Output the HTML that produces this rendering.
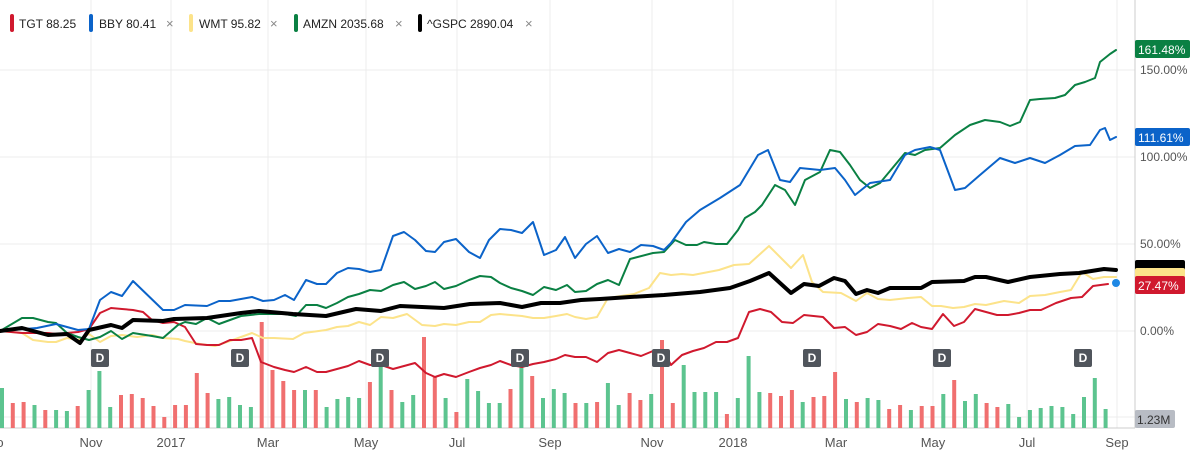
<!DOCTYPE html>
<html><head><meta charset="utf-8"><style>
body{margin:0;width:1190px;height:458px;background:#fff;overflow:hidden;font-family:"Liberation Sans",sans-serif}
svg{position:absolute;left:0;top:0}
</style></head><body>
<svg width="1190" height="458" xmlns="http://www.w3.org/2000/svg" font-family="Liberation Sans, sans-serif">
<g stroke="#ececec" stroke-width="1">
<line x1="0" y1="70" x2="1135" y2="70"/><line x1="0" y1="157" x2="1135" y2="157"/><line x1="0" y1="244" x2="1135" y2="244"/><line x1="0" y1="331" x2="1135" y2="331"/><line x1="0" y1="417" x2="1135" y2="417"/>
<line x1="91" y1="0" x2="91" y2="428"/><line x1="171" y1="0" x2="171" y2="428"/><line x1="268" y1="0" x2="268" y2="428"/><line x1="366" y1="0" x2="366" y2="428"/><line x1="457" y1="0" x2="457" y2="428"/><line x1="550" y1="0" x2="550" y2="428"/><line x1="652" y1="0" x2="652" y2="428"/><line x1="733" y1="0" x2="733" y2="428"/><line x1="836" y1="0" x2="836" y2="428"/><line x1="933" y1="0" x2="933" y2="428"/><line x1="1027" y1="0" x2="1027" y2="428"/><line x1="1117" y1="0" x2="1117" y2="428"/>
</g>
<line x1="1135" y1="0" x2="1135" y2="428" stroke="#ccc"/>
<line x1="0" y1="428" x2="1135" y2="428" stroke="#ccc"/>
<g fill="#ffffff"><rect x="0" y="0" width="1135" height="0"/></g>
<g id="bars">
<rect x="0" y="388" width="4" height="40" fill="#5cc48f"/><rect x="10.8" y="403" width="4" height="25" fill="#f06f6f"/><rect x="21.6" y="402" width="4" height="26" fill="#f06f6f"/><rect x="32.5" y="405" width="4" height="23" fill="#5cc48f"/><rect x="43.3" y="410" width="4" height="18" fill="#f06f6f"/><rect x="54.1" y="410" width="4" height="18" fill="#5cc48f"/><rect x="64.9" y="411" width="4" height="17" fill="#5cc48f"/><rect x="75.7" y="406" width="4" height="22" fill="#f06f6f"/><rect x="86.6" y="390" width="4" height="38" fill="#5cc48f"/><rect x="97.4" y="371" width="4" height="57" fill="#5cc48f"/><rect x="108.2" y="407" width="4" height="21" fill="#5cc48f"/><rect x="119" y="395" width="4" height="33" fill="#f06f6f"/><rect x="129.8" y="394" width="4" height="34" fill="#f06f6f"/><rect x="140.7" y="398" width="4" height="30" fill="#f06f6f"/><rect x="151.5" y="406" width="4" height="22" fill="#f06f6f"/><rect x="162.3" y="417" width="4" height="11" fill="#f06f6f"/><rect x="173.1" y="405" width="4" height="23" fill="#f06f6f"/><rect x="183.9" y="405" width="4" height="23" fill="#f06f6f"/><rect x="194.8" y="373" width="4" height="55" fill="#f06f6f"/><rect x="205.6" y="393" width="4" height="35" fill="#f06f6f"/><rect x="216.4" y="399" width="4" height="29" fill="#5cc48f"/><rect x="227.2" y="397" width="4" height="31" fill="#5cc48f"/><rect x="238" y="405" width="4" height="23" fill="#5cc48f"/><rect x="248.9" y="407" width="4" height="21" fill="#5cc48f"/><rect x="259.7" y="322" width="4" height="106" fill="#f06f6f"/><rect x="270.5" y="370" width="4" height="58" fill="#f06f6f"/><rect x="281.3" y="381" width="4" height="47" fill="#f06f6f"/><rect x="292.1" y="390" width="4" height="38" fill="#f06f6f"/><rect x="303" y="390" width="4" height="38" fill="#5cc48f"/><rect x="313.8" y="390" width="4" height="38" fill="#f06f6f"/><rect x="324.6" y="407" width="4" height="21" fill="#5cc48f"/><rect x="335.4" y="399" width="4" height="29" fill="#5cc48f"/><rect x="346.2" y="397" width="4" height="31" fill="#5cc48f"/><rect x="357.1" y="398" width="4" height="30" fill="#5cc48f"/><rect x="367.9" y="382" width="4" height="46" fill="#f06f6f"/><rect x="378.7" y="367" width="4" height="61" fill="#5cc48f"/><rect x="389.5" y="390" width="4" height="38" fill="#f06f6f"/><rect x="400.3" y="402" width="4" height="26" fill="#5cc48f"/><rect x="411.2" y="395" width="4" height="33" fill="#5cc48f"/><rect x="422" y="337" width="4" height="91" fill="#f06f6f"/><rect x="432.8" y="377" width="4" height="51" fill="#f06f6f"/><rect x="443.6" y="398" width="4" height="30" fill="#5cc48f"/><rect x="454.4" y="412" width="4" height="16" fill="#f06f6f"/><rect x="465.3" y="379" width="4" height="49" fill="#5cc48f"/><rect x="476.1" y="391" width="4" height="37" fill="#5cc48f"/><rect x="486.9" y="403" width="4" height="25" fill="#5cc48f"/><rect x="497.7" y="403" width="4" height="25" fill="#5cc48f"/><rect x="508.5" y="389" width="4" height="39" fill="#f06f6f"/><rect x="519.4" y="367" width="4" height="61" fill="#5cc48f"/><rect x="530.2" y="376" width="4" height="52" fill="#f06f6f"/><rect x="541" y="398" width="4" height="30" fill="#5cc48f"/><rect x="551.8" y="389" width="4" height="39" fill="#5cc48f"/><rect x="562.6" y="393" width="4" height="35" fill="#5cc48f"/><rect x="573.5" y="403" width="4" height="25" fill="#f06f6f"/>
<rect x="584.3" y="403" width="4" height="25" fill="#5cc48f"/><rect x="595.1" y="402" width="4" height="26" fill="#f06f6f"/><rect x="605.9" y="383" width="4" height="45" fill="#5cc48f"/><rect x="616.7" y="405" width="4" height="23" fill="#5cc48f"/><rect x="627.6" y="393" width="4" height="35" fill="#f06f6f"/><rect x="638.4" y="400" width="4" height="28" fill="#f06f6f"/><rect x="649.2" y="394" width="4" height="34" fill="#5cc48f"/><rect x="660" y="340" width="4" height="88" fill="#f06f6f"/><rect x="670.8" y="403" width="4" height="25" fill="#f06f6f"/><rect x="681.7" y="365" width="4" height="63" fill="#5cc48f"/><rect x="692.5" y="392" width="4" height="36" fill="#5cc48f"/><rect x="703.3" y="392" width="4" height="36" fill="#5cc48f"/><rect x="714.1" y="392" width="4" height="36" fill="#5cc48f"/><rect x="724.9" y="414" width="4" height="14" fill="#f06f6f"/><rect x="735.8" y="398" width="4" height="30" fill="#5cc48f"/><rect x="746.6" y="356" width="4" height="72" fill="#5cc48f"/><rect x="757.4" y="392" width="4" height="36" fill="#5cc48f"/><rect x="768.2" y="393" width="4" height="35" fill="#f06f6f"/><rect x="779" y="396" width="4" height="32" fill="#f06f6f"/><rect x="789.9" y="390" width="4" height="38" fill="#f06f6f"/><rect x="800.7" y="402" width="4" height="26" fill="#5cc48f"/><rect x="811.5" y="397" width="4" height="31" fill="#f06f6f"/><rect x="822.3" y="396" width="4" height="32" fill="#f06f6f"/><rect x="833.1" y="372" width="4" height="56" fill="#f06f6f"/><rect x="844" y="399" width="4" height="29" fill="#5cc48f"/><rect x="854.8" y="402" width="4" height="26" fill="#f06f6f"/><rect x="865.6" y="398" width="4" height="30" fill="#5cc48f"/><rect x="876.4" y="400" width="4" height="28" fill="#5cc48f"/><rect x="887.2" y="409" width="4" height="19" fill="#f06f6f"/><rect x="898.1" y="405" width="4" height="23" fill="#f06f6f"/><rect x="908.9" y="410" width="4" height="18" fill="#5cc48f"/><rect x="919.7" y="406" width="4" height="22" fill="#f06f6f"/><rect x="930.5" y="406" width="4" height="22" fill="#f06f6f"/><rect x="941.3" y="394" width="4" height="34" fill="#5cc48f"/><rect x="952.2" y="380" width="4" height="48" fill="#f06f6f"/><rect x="963" y="401" width="4" height="27" fill="#5cc48f"/><rect x="973.8" y="394" width="4" height="34" fill="#5cc48f"/><rect x="984.6" y="403" width="4" height="25" fill="#f06f6f"/><rect x="995.4" y="407" width="4" height="21" fill="#f06f6f"/><rect x="1006.3" y="404" width="4" height="24" fill="#5cc48f"/><rect x="1017.1" y="417" width="4" height="11" fill="#5cc48f"/><rect x="1027.9" y="410" width="4" height="18" fill="#5cc48f"/><rect x="1038.7" y="408" width="4" height="20" fill="#5cc48f"/><rect x="1049.5" y="406" width="4" height="22" fill="#5cc48f"/><rect x="1060.4" y="407" width="4" height="21" fill="#5cc48f"/><rect x="1071.2" y="414" width="4" height="14" fill="#5cc48f"/><rect x="1082" y="397" width="4" height="31" fill="#5cc48f"/><rect x="1092.8" y="378" width="4" height="50" fill="#5cc48f"/><rect x="1103.6" y="409" width="4" height="19" fill="#5cc48f"/>
</g>
<g fill="none" stroke-linejoin="round" stroke-linecap="round">
<polyline stroke="#fce38a" stroke-width="2" points="0,331 22,333 33,340 48,342 56,342 67,338 78,340 89,334 100,342 111,336 122,335 137,337 152,335 163,338 178,339 185,341 200,344 215,346 230,341 241,337 252,333 263,338 274,338 293,339 304,333 326,330 337,327 348,326 359,322 370,325 381,317 393,318 407,314 422,325 435,326 444,324 456,325 469,322 480,322 491,315 500,314 522,316 533,318 544,318 556,316 567,314 575,317 586,319 597,317 608,298 634,294 649,288 660,273 671,275 682,274 693,275 719,270 734,265 749,264 769,246 791,268 803,255 812,282 823,292 841,293 856,301 867,293 878,299 890,300 908,298 921,297 932,306 941,306 953,308 964,307 975,304 986,305 1004,301 1019,303 1030,296 1045,295 1060,292 1071,290 1082,272 1093,279 1104,277 1116,277"/>
<polyline stroke="#d0192e" stroke-width="2" points="0,331 22,333 48,333 56,334 78,332 89,329 100,313 111,308 122,309 133,310 143,312 152,320 163,323 174,322 185,327 196,344 207,345 219,345 230,340 241,340 252,338 261,362 274,367 285,370 294,372 306,367 317,372 326,372 337,369 348,366 359,361 370,365 381,365 393,369 404,366 415,363 426,373 435,377 444,374 456,377 469,372 480,368 491,365 500,361 511,365 522,367 533,364 544,362 556,359 565,355 575,357 586,357 597,362 608,353 619,350 630,353 641,356 653,351 664,352 671,365 682,355 693,351 704,348 716,342 727,342 738,338 749,312 760,309 771,312 782,322 793,323 804,315 823,317 834,328 845,327 856,335 867,332 878,324 890,326 901,329 912,323 921,327 932,329 943,314 954,326 964,322 975,309 986,312 997,315 1008,315 1019,313 1030,310 1041,310 1056,303 1071,298 1082,297 1093,286 1108,284"/>
<polyline stroke="#0a8043" stroke-width="2" points="0,331 22,318 33,318 48,322 56,323 67,333 78,337 89,340 100,337 111,331 122,339 133,333 152,336 163,338 178,325 185,322 196,324 207,318 219,324 230,320 241,316 259,314 285,314 296,316 306,305 317,305 326,308 337,303 348,297 359,294 370,290 381,291 393,285 404,282 415,289 426,286 435,282 444,289 456,286 469,280 480,276 491,277 500,283 511,288 522,291 533,295 544,287 556,290 567,285 575,292 586,291 597,284 608,280 619,285 630,259 653,253 664,252 675,240 686,245 697,245 704,242 716,244 727,244 738,230 745,218 755,212 762,205 775,185 785,190 795,205 805,180 820,172 830,150 840,152 850,165 860,180 870,188 880,183 895,165 905,153 915,155 925,150 940,148 955,135 970,125 985,120 1000,122 1010,126 1020,122 1030,100 1040,99 1055,98 1065,95 1075,85 1085,82 1095,78 1100,62 1110,54 1116,50"/>
<polyline stroke="#0b63c9" stroke-width="2" points="0,331 37,328 56,324 78,330 89,329 100,300 111,292 122,296 133,281 163,310 174,310 185,305 207,306 219,301 230,301 252,297 263,301 274,300 285,295 294,300 306,280 317,284 326,284 337,273 348,268 359,269 370,272 381,270 393,236 404,232 415,240 426,251 435,252 444,242 456,239 469,252 480,258 489,240 500,229 511,230 522,233 533,222 544,255 556,250 565,237 575,258 586,244 597,236 608,253 619,249 630,252 641,245 653,246 664,250 671,243 686,222 700,210 720,198 740,185 758,155 768,150 780,180 790,182 800,168 820,170 835,168 845,180 855,195 870,183 890,180 905,155 915,150 930,147 940,150 955,190 965,188 980,175 1000,158 1015,163 1030,158 1045,163 1060,155 1075,146 1090,145 1100,130 1105,128 1110,140 1116,137"/>
<polyline stroke="#000" stroke-width="4" points="0,331 22,328 48,335 67,334 80,343 89,330 111,325 122,328 133,320 163,321 174,319 207,318 241,313 259,311 293,314 326,316 356,309 381,311 400,306 444,308 470,304 500,303 522,307 541,303 560,303 581,300 600,299 630,297 664,295 700,292 730,288 750,281 769,273 791,293 804,284 819,286 834,278 845,281 856,294 867,290 878,293 890,288 921,288 932,282 964,281 975,277 986,277 1008,282 1030,277 1060,274 1079,273 1104,269 1116,270"/>
</g>
<circle cx="1116" cy="283" r="4" fill="#1e88e5"/>
<g font-size="12" font-weight="bold" fill="#fff" text-anchor="middle">
<rect x="91" y="349" width="18" height="18" rx="2" fill="#50555c"/><text x="100" y="362">D</text>
<rect x="231" y="349" width="18" height="18" rx="2" fill="#50555c"/><text x="240" y="362">D</text>
<rect x="371" y="349" width="18" height="18" rx="2" fill="#50555c"/><text x="380" y="362">D</text>
<rect x="511" y="349" width="18" height="18" rx="2" fill="#50555c"/><text x="520" y="362">D</text>
<rect x="652" y="349" width="18" height="18" rx="2" fill="#50555c"/><text x="661" y="362">D</text>
<rect x="803" y="349" width="18" height="18" rx="2" fill="#50555c"/><text x="812" y="362">D</text>
<rect x="933" y="349" width="18" height="18" rx="2" fill="#50555c"/><text x="942" y="362">D</text>
<rect x="1074" y="349" width="18" height="18" rx="2" fill="#50555c"/><text x="1083" y="362">D</text>
</g>
<g font-size="12" fill="#555">
<text x="1140" y="74">150.00%</text><text x="1140" y="161">100.00%</text><text x="1140" y="248">50.00%</text><text x="1140" y="335">0.00%</text>
</g>
<rect x="1135" y="40" width="55" height="18" rx="2" fill="#0a8043"/><text x="1138" y="54" font-size="12" fill="#fff">161.48%</text>
<rect x="1135" y="128" width="55" height="18" rx="2" fill="#0b63c9"/><text x="1138" y="142" font-size="12" fill="#fff">111.61%</text>
<rect x="1135" y="260" width="50" height="12" rx="2" fill="#000"/>
<rect x="1135" y="268" width="50" height="10" rx="2" fill="#fce38a"/>
<rect x="1135" y="276" width="50" height="18" rx="2" fill="#d0192e"/><text x="1138" y="290" font-size="12" fill="#fff">27.47%</text>
<text x="1140" y="423" font-size="12" fill="#555">%</text>
<rect x="1135" y="410" width="40" height="18" rx="2" fill="#b8bcc4"/><text x="1137" y="424" font-size="12" fill="#333">1.23M</text>
<g font-size="13" fill="#555" text-anchor="middle">
<text x="0" y="447">o</text><text x="91" y="447">Nov</text><text x="171" y="447">2017</text><text x="268" y="447">Mar</text><text x="366" y="447">May</text><text x="457" y="447">Jul</text><text x="550" y="447">Sep</text><text x="652" y="447">Nov</text><text x="733" y="447">2018</text><text x="836" y="447">Mar</text><text x="933" y="447">May</text><text x="1027" y="447">Jul</text><text x="1117" y="447">Sep</text>
</g>
<g font-size="12" fill="#222">
<rect x="10" y="14" width="4" height="18" rx="2" fill="#d0192e"/><text x="19" y="28">TGT 88.25</text>
<rect x="89" y="14" width="4" height="18" rx="2" fill="#0b63c9"/><text x="99" y="28">BBY 80.41</text><text x="166" y="28" fill="#888" font-size="13">×</text>
<rect x="189" y="14" width="4" height="18" rx="2" fill="#fce38a"/><text x="199" y="28">WMT 95.82</text><text x="270" y="28" fill="#888" font-size="13">×</text>
<rect x="294" y="14" width="4" height="18" rx="2" fill="#0a8043"/><text x="303" y="28">AMZN 2035.68</text><text x="395" y="28" fill="#888" font-size="13">×</text>
<rect x="418" y="14" width="4" height="18" rx="2" fill="#000"/><text x="427" y="28">^GSPC 2890.04</text><text x="525" y="28" fill="#888" font-size="13">×</text>
</g>
</svg>
</body></html>
